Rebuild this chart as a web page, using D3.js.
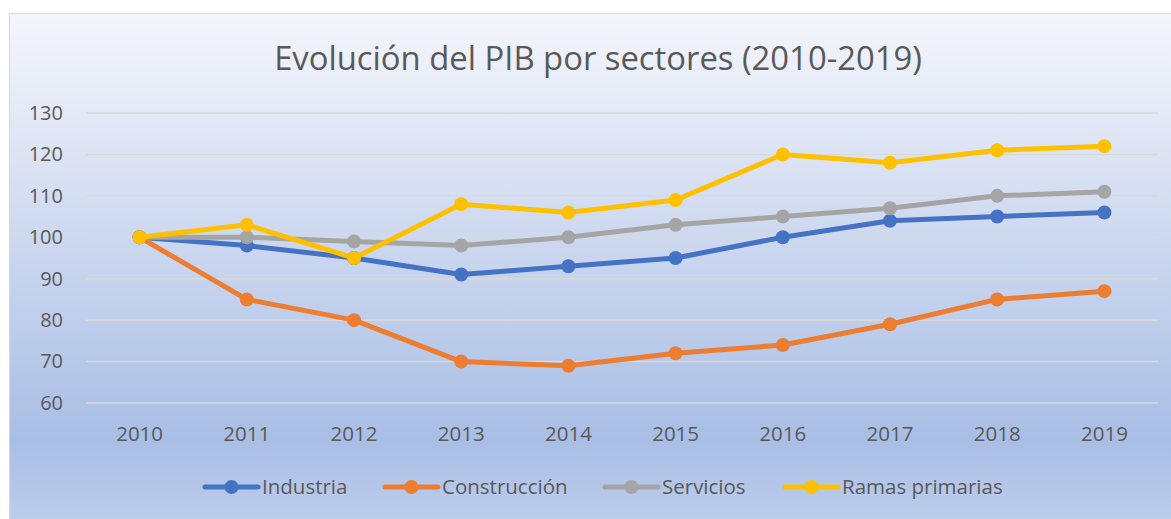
<!DOCTYPE html>
<html>
<head>
<meta charset="utf-8">
<script src="https://cdn.jsdelivr.net/npm/d3@7"></script>
<style>
  body { margin: 0; background: #fff; }
  svg { display: block; font-family: "Open Sans", "Noto Sans", sans-serif; }
</style>
</head>
<body>
<svg id="chart" width="1171" height="519"></svg>
<script>
// Data
var years = ["2010", "2011", "2012", "2013", "2014", "2015", "2016", "2017", "2018", "2019"];
var industria = [100, 98, 95, 91, 93, 95, 100, 104, 105, 106];
var construccion = [100, 85, 80, 70, 69, 72, 74, 79, 85, 87];
var servicios = [100, 100, 99, 98, 100, 103, 105, 107, 110, 111];
var ramas = [100, 103, 95, 108, 106, 109, 120, 118, 121, 122];
var yTicks = [60, 70, 80, 90, 100, 110, 120, 130];

var series = [
    { name: "Industria", values: industria, color: "#4472C4" },
    { name: "Construcción", values: construccion, color: "#ED7D31" },
    { name: "Servicios", values: servicios, color: "#A5A5A5" },
    { name: "Ramas primarias", values: ramas, color: "#FFC000" }
];

var svg = d3.select("#chart");

// background gradient, like the office chart style
var defs = svg.append("defs");
var grad = defs.append("linearGradient")
    .attr("id", "bg")
    .attr("x1", "0%").attr("y1", "0%")
    .attr("x2", "0%").attr("y2", "100%");
grad.append("stop").attr("offset", "0%").style("stop-color", "#f5f6fb");
grad.append("stop").attr("offset", "82%").style("stop-color", "#a9bee5");
grad.append("stop").attr("offset", "100%").style("stop-color", "#c0cfec");

svg.append("rect")
    .attr("x", 9.5)
    .attr("y", 13.5)
    .attr("width", 1200)
    .attr("height", 520)
    .style("fill", "url(#bg)")
    .style("stroke", "#d9d9d9")
    .style("stroke-width", 1);

// title
svg.append("text")
    .attr("x", 598)
    .attr("y", 70)
    .attr("text-anchor", "middle")
    .style("font-size", "32.8px")
    .style("fill", "#595959")
    .text("Evolución del PIB por sectores (2010-2019)");

var margin = { left: 86, right: 1158, top: 113, bottom: 403 };

var x = d3.scaleBand()
    .domain(years)
    .range([margin.left, margin.right]);

var y = d3.scaleLinear()
    .domain([60, 130])
    .range([margin.bottom, margin.top]);

// gridlines
svg.append("g")
    .selectAll("line")
    .data(yTicks)
    .enter()
    .append("line")
    .attr("x1", margin.left)
    .attr("x2", margin.right)
    .attr("y1", function(d) { return y(d); })
    .attr("y2", function(d) { return y(d); })
    .style("stroke", "#d9d9d9")
    .style("stroke-width", 1.5);

// y axis labels
var yAxis = d3.axisLeft(y).tickValues(yTicks).tickSize(0).tickPadding(0);
var gy = svg.append("g")
    .attr("transform", "translate(63,0)")
    .call(yAxis);
gy.select(".domain").remove();
gy.selectAll("text")
    .style("font-size", "20px")
    .style("font-family", "Open Sans, sans-serif")
    .style("fill", "#595959");

// x axis labels
var xAxis = d3.axisBottom(x).tickSize(0).tickPadding(0);
var gx = svg.append("g")
    .attr("transform", "translate(0,426)")
    .call(xAxis);
gx.select(".domain").remove();
gx.selectAll("text")
    .style("font-size", "20.5px")
    .style("font-family", "Open Sans, sans-serif")
    .style("fill", "#595959");

var line = d3.line()
    .x(function(d, i) { return x(years[i]) + x.bandwidth() / 2; })
    .y(function(d) { return y(d); });

// lines and markers
series.forEach(function(s) {
    var g = svg.append("g");
    g.append("path")
        .datum(s.values)
        .attr("d", line)
        .style("fill", "none")
        .style("stroke", s.color)
        .style("stroke-width", 5)
        .style("stroke-linejoin", "round")
        .style("stroke-linecap", "round");
    g.selectAll("circle")
        .data(s.values)
        .enter()
        .append("circle")
        .attr("cx", function(d, i) { return x(years[i]) + x.bandwidth() / 2; })
        .attr("cy", function(d) { return y(d); })
        .attr("r", 7)
        .style("fill", s.color);
});

// legend
var legendX = [203, 383, 603, 783];
var legend = svg.append("g");
series.forEach(function(s, i) {
    var lg = legend.append("g").attr("transform", "translate(" + legendX[i] + ",487)");
    lg.append("line")
        .attr("x1", 2).attr("x2", 55)
        .attr("y1", 0).attr("y2", 0)
        .style("stroke", s.color)
        .style("stroke-width", 5)
        .style("stroke-linecap", "round");
    lg.append("circle")
        .attr("cx", 28.5).attr("cy", 0).attr("r", 7)
        .style("fill", s.color);
    lg.append("text")
        .attr("x", 59)
        .attr("y", 0)
        .attr("dy", "0.35em")
        .style("font-size", "20.5px")
        .style("fill", "#595959")
        .text(s.name);
});
</script>
</body>
</html>
